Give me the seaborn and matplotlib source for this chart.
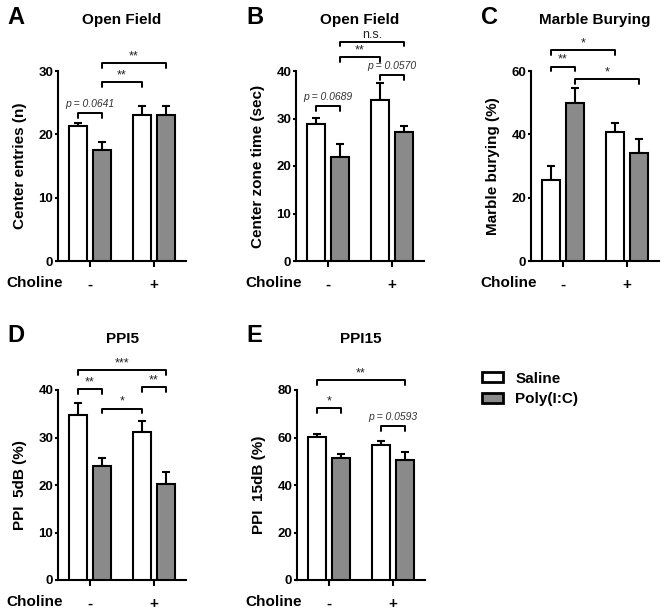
import pandas as pd
import matplotlib
matplotlib.use("Agg")
import matplotlib.pyplot as plt
import seaborn as sns

# groups
choline = ["-", "+"]
treatments = ["Saline", "Poly(I:C)"]
bar_colors = ["white", "#8a8a8a"]

# A: open field, center entries
a_saline = [21.3, 23.0]
a_saline_sem = [0.5, 1.4]
a_poly = [17.5, 23.1]
a_poly_sem = [1.3, 1.3]
a_sig = [("S-", "P-", 23.4, "p = 0.0641"), ("P-", "S+", 28.2, "**"), ("P-", "P+", 31.2, "**")]

# B: open field, center zone time
b_saline = [28.8, 33.9]
b_saline_sem = [1.4, 3.5]
b_poly = [22.0, 27.2]
b_poly_sem = [2.6, 1.2]
b_sig = [("S-", "P-", 32.6, "p = 0.0689"), ("P-", "S+", 42.9, "**"),
         ("P-", "P+", 46.2, "n.s."), ("S+", "P+", 39.2, "p = 0.0570")]

# C: marble burying
c_saline = [25.6, 40.6]
c_saline_sem = [4.4, 3.1]
c_poly = [49.8, 34.2]
c_poly_sem = [4.7, 4.4]
c_sig = [("S-", "P-", 61.4, "**"), ("S-", "S+", 66.6, "*"), ("P-", "P+", 57.5, "*")]

# D: PPI 5 dB
d_saline = [34.7, 31.2]
d_saline_sem = [2.6, 2.3]
d_poly = [23.9, 20.2]
d_poly_sem = [1.7, 2.5]
d_sig = [("S-", "P-", 40.2, "**"), ("P-", "S+", 36.1, "*"),
         ("S+", "P+", 40.6, "**"), ("S-", "P+", 44.2, "***")]

# E: PPI 15 dB
e_saline = [60.4, 57.0]
e_saline_sem = [1.2, 1.5]
e_poly = [51.2, 50.4]
e_poly_sem = [2.0, 3.4]
e_sig = [("S-", "P-", 72.3, "*"), ("S+", "P+", 64.8, "p = 0.0593"), ("S-", "P+", 84.2, "**")]

sns.set_style("ticks")
plt.rcParams["font.family"] = ["Liberation Sans", "DejaVu Sans"]
plt.rcParams["font.weight"] = "bold"
plt.rcParams["axes.linewidth"] = 1.5
for key in ["text.color", "axes.labelcolor", "xtick.color", "ytick.color", "axes.edgecolor"]:
    plt.rcParams[key] = "black"

W, H = 665, 613
fig = plt.figure(figsize=(W / 100, H / 100), dpi=100)


def px_axes(left, top, width, height):
    return fig.add_axes([left / W, (H - top - height) / H, width / W, height / H])


def draw_panel(ax, saline, saline_sem, poly, poly_sem, ymax, ystep, ylabel, sig, show_legend=False):
    df = pd.DataFrame({
        "choline": choline * 2,
        "treatment": [treatments[0]] * 2 + [treatments[1]] * 2,
        "value": saline + poly,
    })
    sns.barplot(data=df, x="choline", y="value", hue="treatment", order=choline,
                hue_order=treatments, palette=bar_colors, saturation=1, errorbar=None,
                width=0.75, gap=0.28, edgecolor="black", linewidth=1.5, ax=ax,
                legend=show_legend, zorder=3)
    centers = {}
    for cont, key, sems in zip(ax.containers, ["S", "P"], [saline_sem, poly_sem]):
        for bar, c, e in zip(cont, choline, sems):
            x = bar.get_x() + bar.get_width() / 2
            ax.errorbar(x, bar.get_height(), yerr=[[0], [e]], color="black", capsize=3.2,
                        elinewidth=1.5, capthick=1.5, zorder=2)
            centers[key + c] = x
    drop = 0.025 * ymax
    for a, b, y, label in sig:
        x1, x2 = centers[a], centers[b]
        ax.plot([x1, x1, x2, x2], [y - drop, y, y, y - drop], color="black", lw=1.4,
                clip_on=False, zorder=4)
        if label.startswith("p"):
            ax.text((x1 + x2) / 2, y + 0.02 * ymax, label, ha="center", va="bottom",
                    fontsize=7.5, style="italic", fontweight="normal", color="#333333")
        else:
            ax.text((x1 + x2) / 2, y + 0.005 * ymax, label, ha="center", va="bottom",
                    fontsize=9, fontweight="normal", color="#222222")
    ax.set_xlim(-0.5, 1.5)
    ax.set_ylim(0, ymax)
    ax.set_yticks(range(0, ymax + 1, ystep))
    ax.set_xlabel("")
    ax.set_ylabel(ylabel, fontsize=11, fontweight="bold", labelpad=8)
    ax.tick_params(axis="y", width=1.5, length=2.5, pad=1, labelsize=9.5, color="black")
    ax.tick_params(axis="x", width=1.5, length=4, pad=8, labelsize=11, color="black")
    for lab in ax.get_xticklabels() + ax.get_yticklabels():
        lab.set_fontweight("bold")
    sns.despine(ax=ax)


panels = [
    (px_axes(58, 71, 128, 190), a_saline, a_saline_sem, a_poly, a_poly_sem, 30, 10,
     "Center entries (n)", a_sig, "A", "Open Field", 6),
    (px_axes(296, 71, 128, 190), b_saline, b_saline_sem, b_poly, b_poly_sem, 40, 10,
     "Center zone time (sec)", b_sig, "B", "Open Field", 245),
    (px_axes(531, 71, 128, 190), c_saline, c_saline_sem, c_poly, c_poly_sem, 60, 20,
     "Marble burying (%)", c_sig, "C", "Marble Burying", 480),
    (px_axes(58, 390, 128, 190), d_saline, d_saline_sem, d_poly, d_poly_sem, 40, 10,
     "PPI  5dB (%)", d_sig, "D", "PPI5", 6),
    (px_axes(297, 390, 128, 190), e_saline, e_saline_sem, e_poly, e_poly_sem, 80, 20,
     "PPI  15dB (%)", e_sig, "E", "PPI15", 245),
]

for i, (ax, s, ss, p, ps, ymax, step, ylab, sig, letter, title, chx) in enumerate(panels):
    draw_panel(ax, s, ss, p, ps, ymax, step, ylab, sig, show_legend=(i == 0))
    bb = ax.get_position()
    top_px = H - bb.y1 * H
    bottom_px = H - bb.y0 * H
    fig.text((bb.x0 + bb.x1) / 2, 1 - (top_px - 51) / H, title, ha="center", va="center",
             fontsize=11, fontweight="bold")
    fig.text((chx + 1) / W, 1 - (top_px - 54) / H, letter, ha="left", va="center",
             fontsize=17, fontweight="bold")
    fig.text(chx / W, 1 - (bottom_px + 22) / H, "Choline", ha="left", va="center",
             fontsize=11, fontweight="bold")

# shared legend
ax0 = panels[0][0]
handles, labels = ax0.get_legend_handles_labels()
ax0.get_legend().remove()
for h in handles:
    h.set_linewidth(2)
fig.legend(handles, labels, loc="center left", bbox_to_anchor=(468 / W, 1 - 389 / H),
           frameon=False, prop={"weight": "bold", "size": 11}, handlelength=1.4,
           handleheight=0.6, handletextpad=0.8, labelspacing=0.45)

fig.savefig("out.png", dpi=100)
